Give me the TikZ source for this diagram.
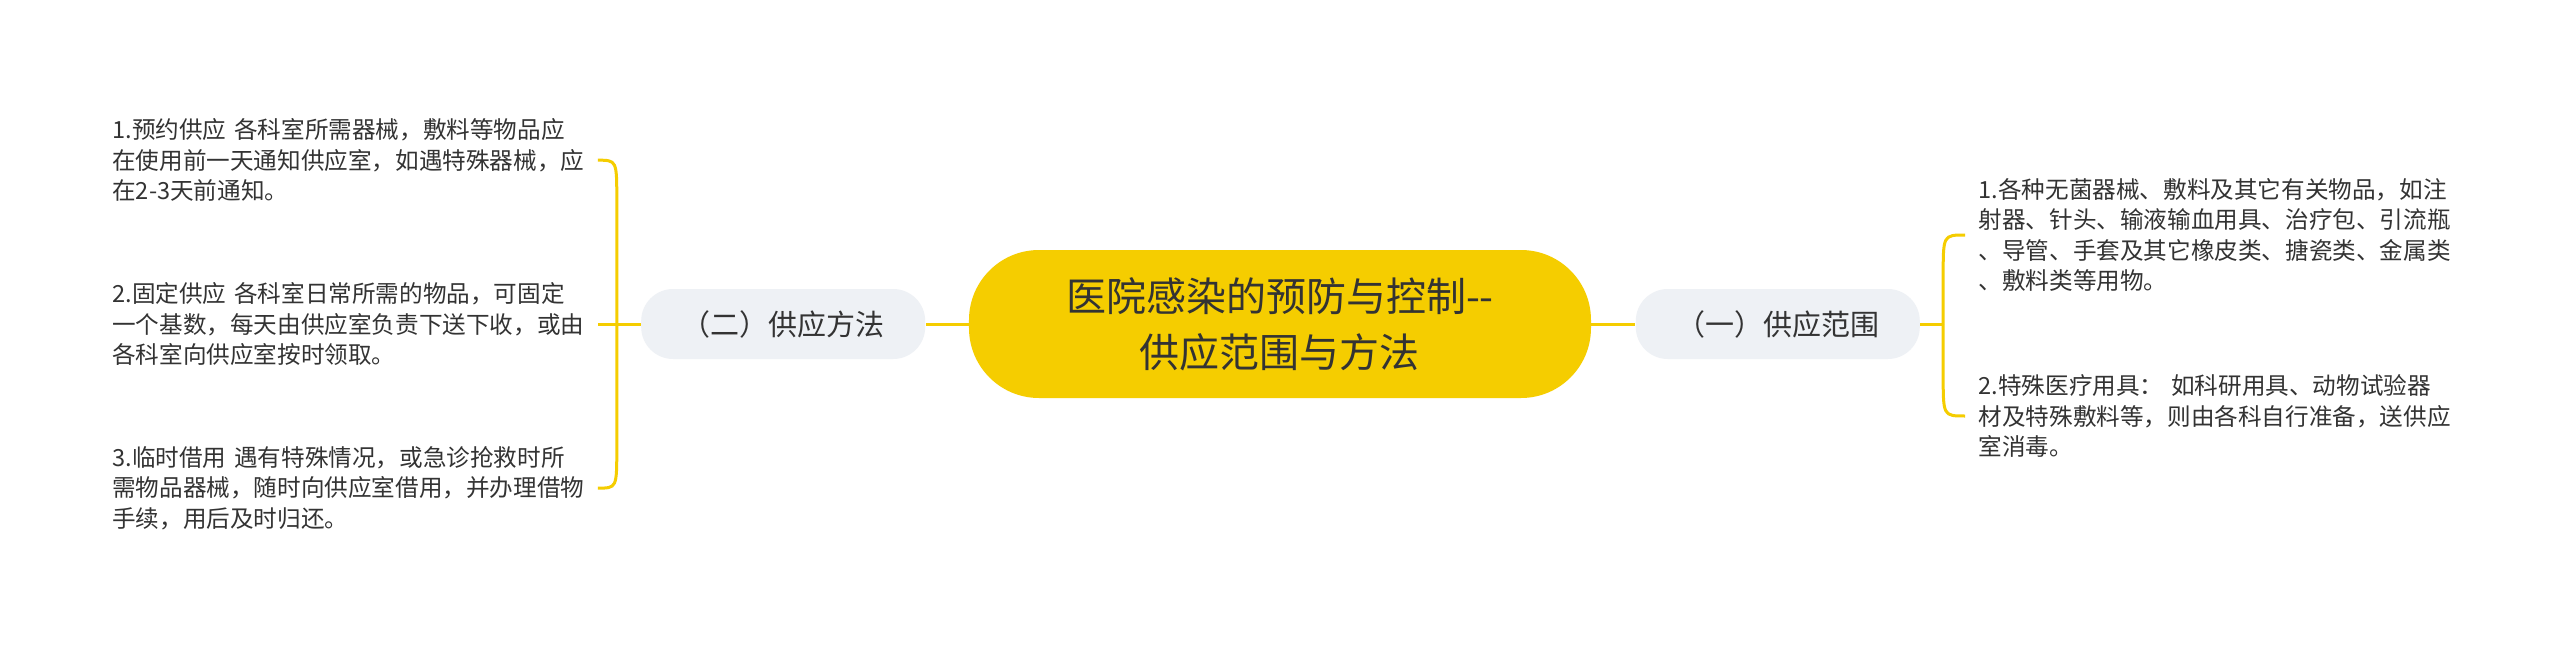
\documentclass[tikz,border=0pt]{standalone}
\usepackage{fontspec}
\setmainfont{Noto Sans CJK SC}
\usepackage{xcolor}
\usetikzlibrary{positioning}

\definecolor{rootyellow}{HTML}{F5CD00}
\definecolor{topicgray}{HTML}{EEF1F5}
\definecolor{textdark}{HTML}{333333}

\begin{document}
\begin{tikzpicture}[
  node distance=40pt and 21.5pt,
  root/.style={rectangle, fill=rootyellow, rounded corners=35pt, minimum width=311pt, minimum height=74pt, align=center, text=textdark, font=\fontsize{20pt}{28pt}\selectfont},
  topic/.style={rectangle, fill=topicgray, rounded corners=16pt, minimum width=142pt, minimum height=35pt, text=textdark, font=\fontsize{14.5pt}{17pt}\selectfont},
  leaf/.style={rectangle, inner xsep=6.5pt, inner ysep=0pt, text width=236pt, align=left, text=textdark, font=\fontsize{11.8pt}{15.25pt}\selectfont},
  link/.style={draw=rootyellow, line width=1.5pt}
]
\fill[white] (-640pt,-162.5pt) rectangle (640pt,162pt);

% Centre and main topics
\node[root] (root) at (0,0) {医院感染的预防与控制-{}-\\供应范围与方法};
\node[topic, left=21.5pt of root] (method) {（二）供应方法};
\node[topic, right=22pt of root] (scope) {（一）供应范围};

% Leaves - supply methods (left)
\node[leaf, left=21.5pt of method] (m2) {2.固定供应 各科室日常所需的物品，可固定\\一个基数，每天由供应室负责下送下收，或由\\各科室向供应室按时领取。};
\node[leaf, above=40pt of m2] (m1) {1.预约供应 各科室所需器械，敷料等物品应\\在使用前一天通知供应室，如遇特殊器械，应\\在2-3天前通知。};
\node[leaf, below=40pt of m2] (m3) {3.临时借用 遇有特殊情况，或急诊抢救时所\\需物品器械，随时向供应室借用，并办理借物\\手续，用后及时归还。};

% Leaves - supply scope (right)
\node[leaf, right=22.5pt of scope, yshift=44.5pt] (s1) {1.各种无菌器械、敷料及其它有关物品，如注\\射器、针头、输液输血用具、治疗包、引流瓶\\、导管、手套及其它橡皮类、搪瓷类、金属类\\、敷料类等用物。};
\node[leaf, below=41pt of s1] (s2) {2.特殊医疗用具： 如科研用具、动物试验器\\材及特殊敷料等，则由各科自行准备，送供应\\室消毒。};

% Links - centre
\draw[link] (root) -- (method);
\draw[link] (root) -- (scope);

% Links - left bracket
\coordinate (mfork) at ([xshift=-12pt]method.west);
\draw[link] (method) -- (m2);
\draw[link] (mfork) -- ([yshift=-20pt]mfork |- m1.east) .. controls (mfork |- m1.east) .. (m1.east);
\draw[link] (mfork) -- ([yshift=20pt]mfork |- m3.east) .. controls (mfork |- m3.east) .. (m3.east);

% Links - right bracket
\coordinate (sfork) at ([xshift=11.5pt]scope.east);
\draw[link] (scope) -- (sfork);
\draw[link] (sfork) -- ([yshift=-20pt]sfork |- s1.west) .. controls (sfork |- s1.west) .. (s1.west);
\draw[link] (sfork) -- ([yshift=20pt]sfork |- s2.west) .. controls (sfork |- s2.west) .. (s2.west);

\end{tikzpicture}
\end{document}
